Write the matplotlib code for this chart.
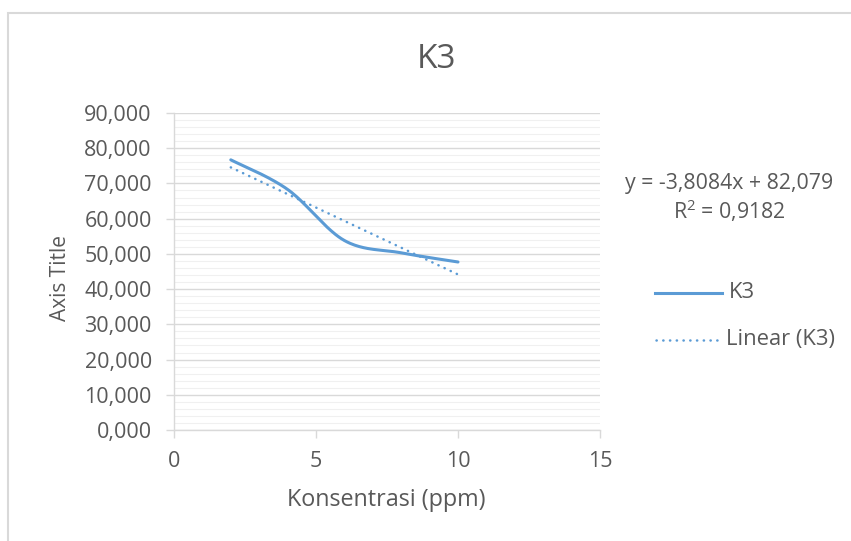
#!/usr/bin/env python3

# +
# import(s)
# -
import numpy as np
import matplotlib
matplotlib.use('Agg')
import matplotlib.pyplot as plt
from matplotlib.lines import Line2D
from matplotlib.patches import Rectangle
from matplotlib.ticker import FuncFormatter, MultipleLocator


# +
# data
# -
konsentrasi = [2, 4, 6, 8, 10]
k3_values = [76.7, 68.3, 53.8, 50.3, 47.7]
eq_text = 'y = -3,8084x + 82,079'
r2_text = 'R$^2$ = 0,9182'
x_ticks = [0, 5, 10, 15]
y_ticks = [0, 10, 20, 30, 40, 50, 60, 70, 80, 90]

BLUE = '#5B9BD5'
GREY = '#595959'
FONT = ['Open Sans', 'DejaVu Sans']


# +
# function: _smooth() -- excel style bezier smoothing
# -
def _smooth(_x, _y, n=40):
    _p = np.column_stack([_x, _y]).astype(float)
    _out = []
    for _i in range(len(_p) - 1):
        p0 = _p[_i - 1] if _i > 0 else _p[_i]
        p1 = _p[_i]
        p2 = _p[_i + 1]
        p3 = _p[_i + 2] if _i + 2 < len(_p) else _p[_i + 1]
        c1 = p1 + (p2 - p0) / 6.0
        c2 = p2 - (p3 - p1) / 6.0
        t = np.linspace(0, 1, n)[:, None]
        seg = (1 - t) ** 3 * p1 + 3 * (1 - t) ** 2 * t * c1 + 3 * (1 - t) * t ** 2 * c2 + t ** 3 * p2
        _out.append(seg if _i == 0 else seg[1:])
    _out = np.vstack(_out)
    return _out[:, 0], _out[:, 1]


plt.rcParams['font.family'] = FONT
plt.rcParams['mathtext.fontset'] = 'custom'
plt.rcParams['mathtext.rm'] = 'Open Sans'

fig = plt.figure(figsize=(8.51, 5.41), dpi=100)
fig.patches.append(Rectangle((8 / 851, -0.1), 1.2, (541 - 13) / 541 + 0.1, transform=fig.transFigure,
                             fill=False, edgecolor='#d9d9d9', linewidth=1.5))

ax = fig.add_axes([174 / 851, 1 - 430 / 541, 426 / 851, 317 / 541])

# series
sx, sy = _smooth(konsentrasi, k3_values)
ax.plot(sx, sy, color=BLUE, linewidth=2.2, solid_capstyle='round', zorder=3)

# trendline
_m, _b = np.polyfit(konsentrasi, k3_values, 1)
tx = np.array([konsentrasi[0], konsentrasi[-1]])
ax.plot(tx, _m * tx + _b, color=BLUE, linewidth=1.8, linestyle=(0, (0.1, 2.6)),
        dash_capstyle='round', zorder=3)

# axes
ax.set_xlim(0, 15)
ax.set_ylim(0, 90)
ax.set_xticks(x_ticks)
ax.set_yticks(y_ticks)
ax.yaxis.set_minor_locator(MultipleLocator(2))
ax.yaxis.set_major_formatter(FuncFormatter(lambda v, p: f'{v:.3f}'.replace('.', ',')))
ax.grid(axis='y', which='major', color='#d9d9d9', linewidth=1.0)
ax.grid(axis='y', which='minor', color='#f0f0f0', linewidth=0.8)
ax.set_axisbelow(True)
for s in ['top', 'right']:
    ax.spines[s].set_visible(False)
for s in ['left', 'bottom']:
    ax.spines[s].set_color('#d9d9d9')
    ax.spines[s].set_linewidth(1.0)
ax.tick_params(axis='both', which='major', colors='#d9d9d9', labelcolor=GREY, labelsize=15.5, length=6, width=1.0)
ax.tick_params(axis='y', which='minor', length=0)
ax.tick_params(axis='y', pad=10)
ax.tick_params(axis='x', pad=9)

ax.set_xlabel('Konsentrasi (ppm)', fontsize=16.8, color=GREY, va='center')
ax.xaxis.set_label_coords(0.498 - (174 - 174) / 426, -(500 - 430) / 317)
ax.set_ylabel('Axis Title', fontsize=15, color=GREY, va='center')
ax.yaxis.set_label_coords(-(174 - 61) / 426, 0.48)
fig.text(436 / 851, 1 - 60 / 541, 'K3', fontsize=24, color=GREY, ha='center', va='center')

# equation
fig.text(729 / 851, 1 - 183 / 541, eq_text, fontsize=15.3, color=GREY, ha='center', va='center')
fig.text(729 / 851, 1 - 211 / 541, r2_text, fontsize=15.3, color=GREY, ha='center', va='center')

# legend
fig.add_artist(Line2D([655 / 851, 722 / 851], [1 - 293 / 541] * 2, transform=fig.transFigure,
                      color=BLUE, linewidth=2.2))
fig.text(729 / 851, 1 - 293 / 541, 'K3', fontsize=15.8, color=GREY, ha='left', va='center')
fig.add_artist(Line2D([656 / 851, 718 / 851], [1 - 340 / 541] * 2, transform=fig.transFigure,
                      color=BLUE, linewidth=1.8, linestyle=(0, (0.1, 2.6)), dash_capstyle='round'))
fig.text(726 / 851, 1 - 340 / 541, 'Linear (K3)', fontsize=15.8, color=GREY, ha='left', va='center')

fig.savefig('out.png', dpi=100, facecolor='white')
